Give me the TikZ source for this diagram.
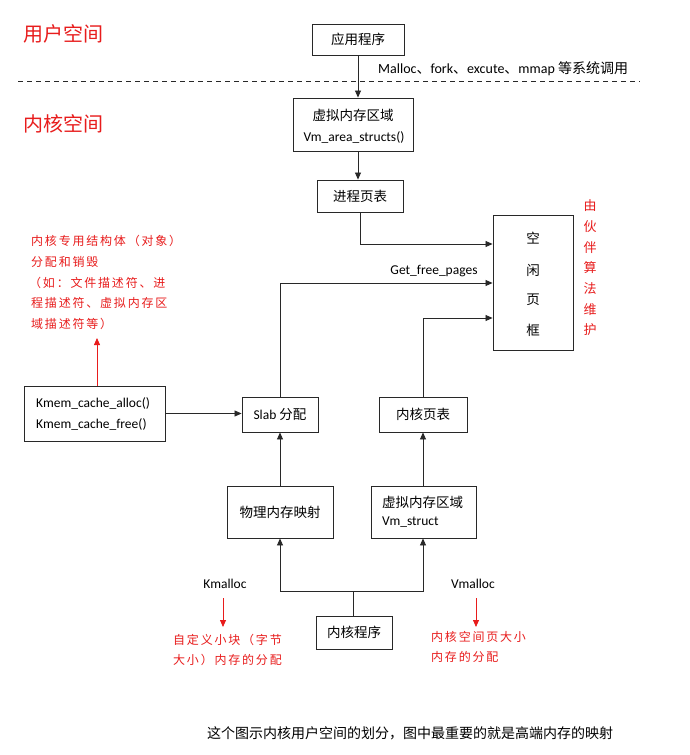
\documentclass[tikz,border=0pt]{standalone}
\usepackage{fontspec}
\setmainfont{Carlito}
\newfontfamily\zh{Noto Sans CJK SC}
\newfontfamily\zhs[LetterSpace=15]{Noto Sans CJK SC}
\usetikzlibrary{arrows.meta,positioning}
\definecolor{myred}{RGB}{232,28,28}
\definecolor{lin}{RGB}{40,40,40}
\begin{document}
\begin{tikzpicture}[x=1pt,y=-1pt,
  box/.style={draw=lin,line width=0.9pt,inner sep=0pt},
  arr/.style={draw=lin,line width=0.8pt,-{Triangle[length=7pt,width=6pt]}},
  ln/.style={draw=lin,line width=0.8pt},
  rarr/.style={draw=myred,line width=0.8pt,-{Triangle[length=7pt,width=6pt]}},
  txt/.style={inner sep=0pt,font=\fontsize{13.5}{16}\selectfont},
  rtxt/.style={inner sep=0pt,anchor=west,text=myred,font=\zhs\fontsize{12}{14}\selectfont},
  big/.style={inner sep=0pt,anchor=west,text=myred,font=\zh\fontsize{20}{24}\selectfont}]
\useasboundingbox (0,0) rectangle (689,755);
\fill[white] (0,0) rectangle (689,755);

% region labels
\node[big] (user) at (23,34) {用户空间};
\node[big] (kern) at (23,124) {内核空间};
\coordinate (dl) at (18,81);
\coordinate (dr) at (640,81);
\draw[lin,line width=0.8pt,dash pattern=on 5pt off 4pt] (dl) -- (dr);

% boxes
\node[box,minimum width=92pt,minimum height=31pt] (app) at (358,39.5) {};
\node[txt,font=\zh\fontsize{13.5}{16}\selectfont] (appt) at (app.center) {应用程序};

\node[box,minimum width=120pt,minimum height=53pt] (vma) at (353,124.5) {};
\node[txt,font=\zh\fontsize{13.5}{16}\selectfont] (vmat1) at (353,115) {虚拟内存区域};
\node[txt] (vmat2) at (354,137) {Vm\_area\_structs()};

\node[box,minimum width=86pt,minimum height=32pt] (pt) at (360,196) {};
\node[txt,font=\zh\fontsize{13.5}{16}\selectfont] (ptt) at (pt.center) {进程页表};

\node[box,minimum width=80pt,minimum height=135pt] (free) at (533,282.5) {};
\node[txt,font=\zh\fontsize{13.5}{16}\selectfont] (f1) at (533,238) {空};
\node[txt,font=\zh\fontsize{13.5}{16}\selectfont] (f2) at (533,270) {闲};
\node[txt,font=\zh\fontsize{13.5}{16}\selectfont] (f3) at (533,300) {页};
\node[txt,font=\zh\fontsize{13.5}{16}\selectfont] (f4) at (533,330) {框};

\foreach \c/\y/\n in {由/206/a,伙/226.7/b,伴/247.3/c,算/268/d,法/288.7/e,维/309.3/f,护/330/g}
  \node[inner sep=0pt,text=myred,font=\zh\fontsize{13}{15}\selectfont] (bud\n) at (590,\y) {\c};

\node[box,minimum width=141pt,minimum height=55pt] (kmem) at (94.5,413.5) {};
\node[txt,anchor=west] (km1) at (36,403) {Kmem\_cache\_alloc()};
\node[txt,anchor=west] (km2) at (36,424) {Kmem\_cache\_free()};

\node[box,minimum width=76pt,minimum height=35pt] (slab) at (280,414.5) {};
\node[txt] (slabt) at (slab.center) {Slab {\zh 分配}};

\node[box,minimum width=88pt,minimum height=35pt] (kpt) at (423,414.5) {};
\node[txt,font=\zh\fontsize{13.5}{16}\selectfont] (kptt) at (kpt.center) {内核页表};

\node[box,minimum width=106pt,minimum height=52pt] (phys) at (280,512) {};
\node[txt,font=\zh\fontsize{13.5}{16}\selectfont] (physt) at (phys.center) {物理内存映射};

\node[box,minimum width=105pt,minimum height=52pt] (vms) at (423.5,512) {};
\node[txt,anchor=west,font=\zh\fontsize{13.5}{16}\selectfont] (vms1) at (382,502) {虚拟内存区域};
\node[txt,anchor=west] (vms2) at (382,522) {Vm\_struct};

\node[box,minimum width=76pt,minimum height=33pt] (kp) at (354,632.5) {};
\node[txt,font=\zh\fontsize{13.5}{16}\selectfont] (kpt2) at (kp.center) {内核程序};

% labels
\node[txt,anchor=west,font=\fontsize{14}{16}\selectfont] (sys) at (378,69) {Malloc{\zh 、}fork{\zh 、}excute{\zh 、}mmap {\zh 等系统调用}};
\node[txt] (gfp) at (434,271) {Get\_free\_pages};
\node[txt] (kmal) at (225,584) {Kmalloc};
\node[txt] (vmal) at (473,584) {Vmalloc};

% connectors
\draw[arr] (app.south) -- (vma.north -| app.south);
\draw[arr] (vma.south -| app.south) -- (pt.north -| app.south);
\coordinate (ptc) at (360,244);
\draw[arr] (pt.south) -- (ptc) -- (ptc -| free.west);
\coordinate (slc) at (280,283);
\draw[arr] (slab.north) -- (slc) -- (slc -| free.west);
\coordinate (kpc) at (423,318);
\draw[arr] (kpt.north) -- (kpc) -- (kpc -| free.west);
\draw[arr] (kmem.east) -- (kmem.east -| slab.west);
\draw[arr] (phys.north) -- (slab.south);
\draw[arr] (vms.north -| kpt.south) -- (kpt.south);
\coordinate (jn) at (353,591);
\draw[ln] (kp.north -| jn) -- (jn);
\draw[arr] (jn) -- (jn -| phys.south) -- (phys.south);
\draw[arr] (jn) -- (jn -| kpt.south) -- (vms.south -| kpt.south);

% red annotations
\coordinate (ra) at (97,338);
\draw[rarr] (kmem.north -| ra) -- (ra);
\node[rtxt] (n1) at (31,241) {内核专用结构体（对象）};
\node[rtxt] (n2) at (31,262) {分配和销毁};
\node[rtxt] (n3) at (29,283) {（如：文件描述符、进};
\node[rtxt] (n4) at (31,303) {程描述符、虚拟内存区};
\node[rtxt] (n5) at (31,324) {域描述符等）};

\coordinate (ka1) at (223,598);
\coordinate (ka2) at (223,627);
\draw[rarr] (ka1) -- (ka2);
\coordinate (va1) at (476,598);
\coordinate (va2) at (476,627);
\draw[rarr] (va1) -- (va2);
\node[rtxt] (m1) at (173,640) {自定义小块（字节};
\node[rtxt] (m2) at (173,660) {大小）内存的分配};
\node[rtxt] (v1) at (431,637) {内核空间页大小};
\node[rtxt] (v2) at (431,657) {内存的分配};

% caption
\node[inner sep=0pt,anchor=west,font=\zh\fontsize{14}{16}\selectfont] (cap) at (207,733) {这个图示内核用户空间的划分，图中最重要的就是高端内存的映射};
\end{tikzpicture}
\end{document}
